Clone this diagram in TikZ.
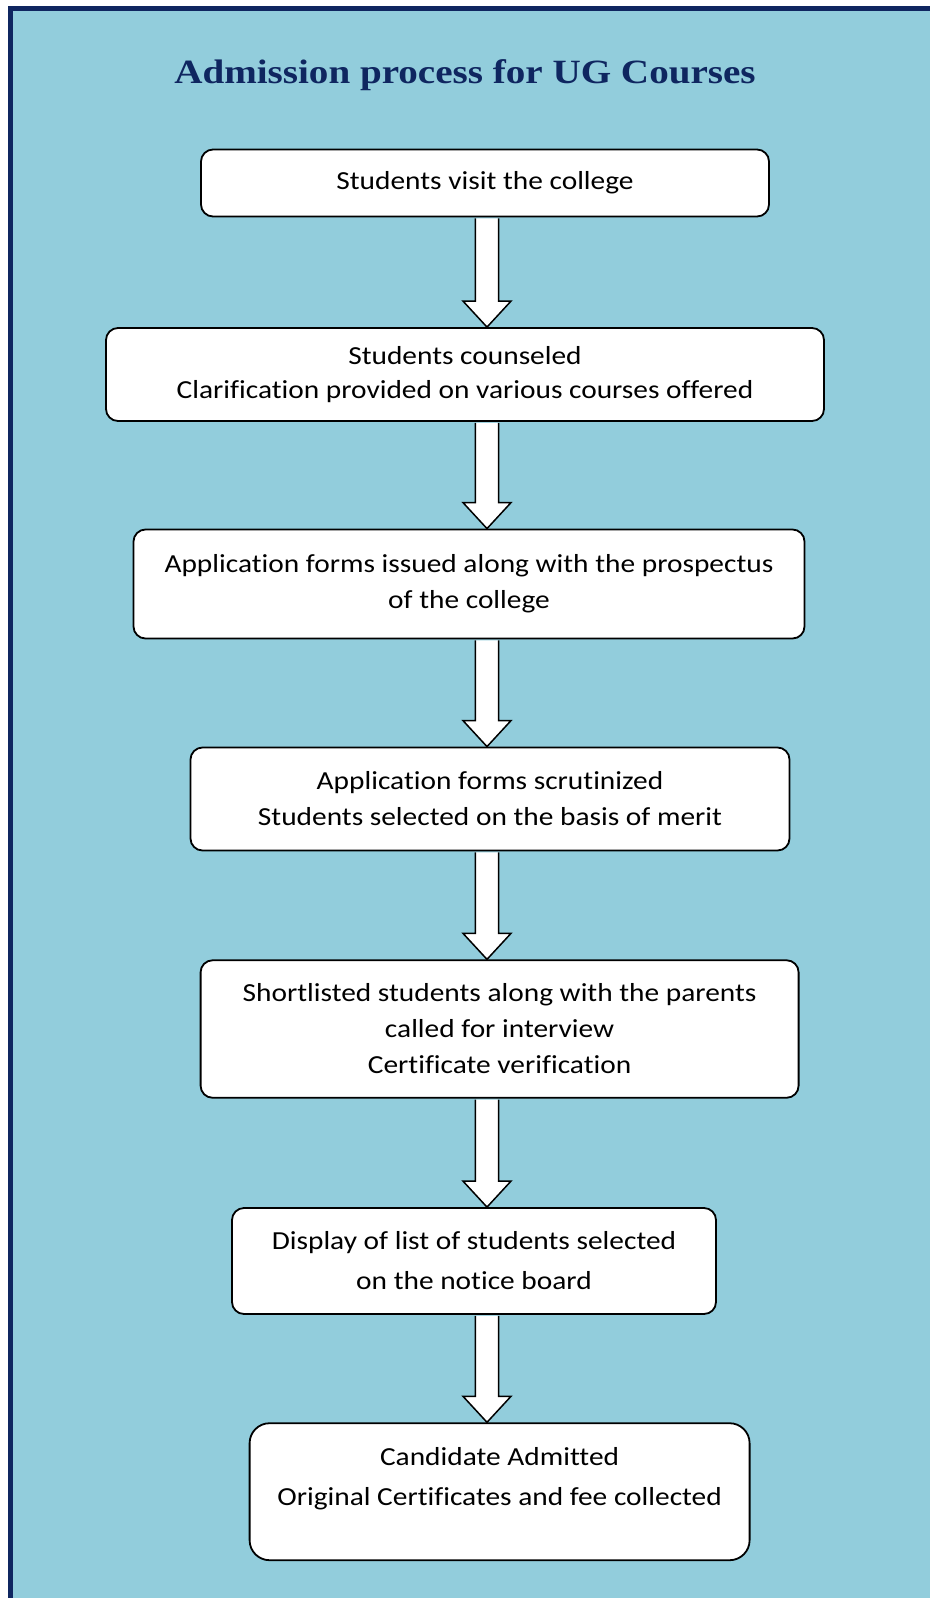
\documentclass[tikz,border=0pt]{standalone}
\usepackage{fontspec}
\setmainfont{Carlito}[Ligatures=NoCommon, FakeStretch=1.13]
\newfontfamily\titlefont{Liberation Serif}[FakeStretch=1.15]
\usetikzlibrary{calc}
\definecolor{bgblue}{HTML}{92CDDC}
\definecolor{navy}{HTML}{0F2660}

\begin{document}
\begin{tikzpicture}[x=1pt,y=-1pt,
	StepBox/.style={draw, fill=white, line width=1.8pt, rounded corners=12pt, align=center, inner sep=0pt, font=\fontsize{26}{36}\selectfont},
	FlowArrow/.style={draw, fill=white, line width=1.5pt, line join=miter}]
	\useasboundingbox (0,0) rectangle (930,1598);
	\fill[bgblue] (10,8) rectangle (930,1598);
	\draw[navy, line width=5pt] (10,1598) -- (10,8.5) -- (930,8.5);
	\node[font=\titlefont\bfseries\fontsize{34}{40}\selectfont, text=navy] (title) at (465,75) {Admission process for UG Courses};
	\node[StepBox, minimum width=568pt, minimum height=67pt] (visit) at (485,183) {Students visit the college};
	\node[StepBox, minimum width=718pt, minimum height=93pt, font=\fontsize{26}{34.5}\selectfont] (counsel) at (465,374.5) {Students counseled\\Clarification provided on various courses offered};
	\node[StepBox, minimum width=671pt, minimum height=109pt] (issue) at (469,584) {Application forms issued along with the prospectus\\of the college};
	\node[StepBox, minimum width=599pt, minimum height=103pt] (scrutiny) at (490,799) {Application forms scrutinized\\Students selected on the basis of merit};
	\node[StepBox, minimum width=598pt, minimum height=137.5pt] (interview) at (499.6,1029) {Shortlisted students along with the parents\\called for interview\\Certificate verification};
	\node[StepBox, minimum width=484pt, minimum height=106pt, font=\fontsize{26}{40}\selectfont] (display) at (474,1261) {Display of list of students selected\\on the notice board};
	\node[StepBox, minimum width=500pt, minimum height=137pt, rounded corners=20pt, font=\fontsize{26}{40}\selectfont, text depth=31pt] (admit) at (499.6,1491.7) {Candidate Admitted\\Original Certificates and fee collected};
	% block arrows between the steps
	\coordinate (ax) at (487,0);
	\foreach \a/\b in {visit/counsel, counsel/issue, issue/scrutiny, scrutiny/interview, interview/display, display/admit}
		\draw[FlowArrow] let \p1=(\a.south -| ax), \p2=(\b.north -| ax) in
			(\x1-11.7pt,\y1-0.9pt) -- (\x1-11.7pt,\y2+26pt) -- (\x1-24pt,\y2+26pt) -- (\x2,\y2) -- (\x1+24pt,\y2+26pt) -- (\x1+11.7pt,\y2+26pt) -- (\x1+11.7pt,\y1-0.9pt);
\end{tikzpicture}
\end{document}
